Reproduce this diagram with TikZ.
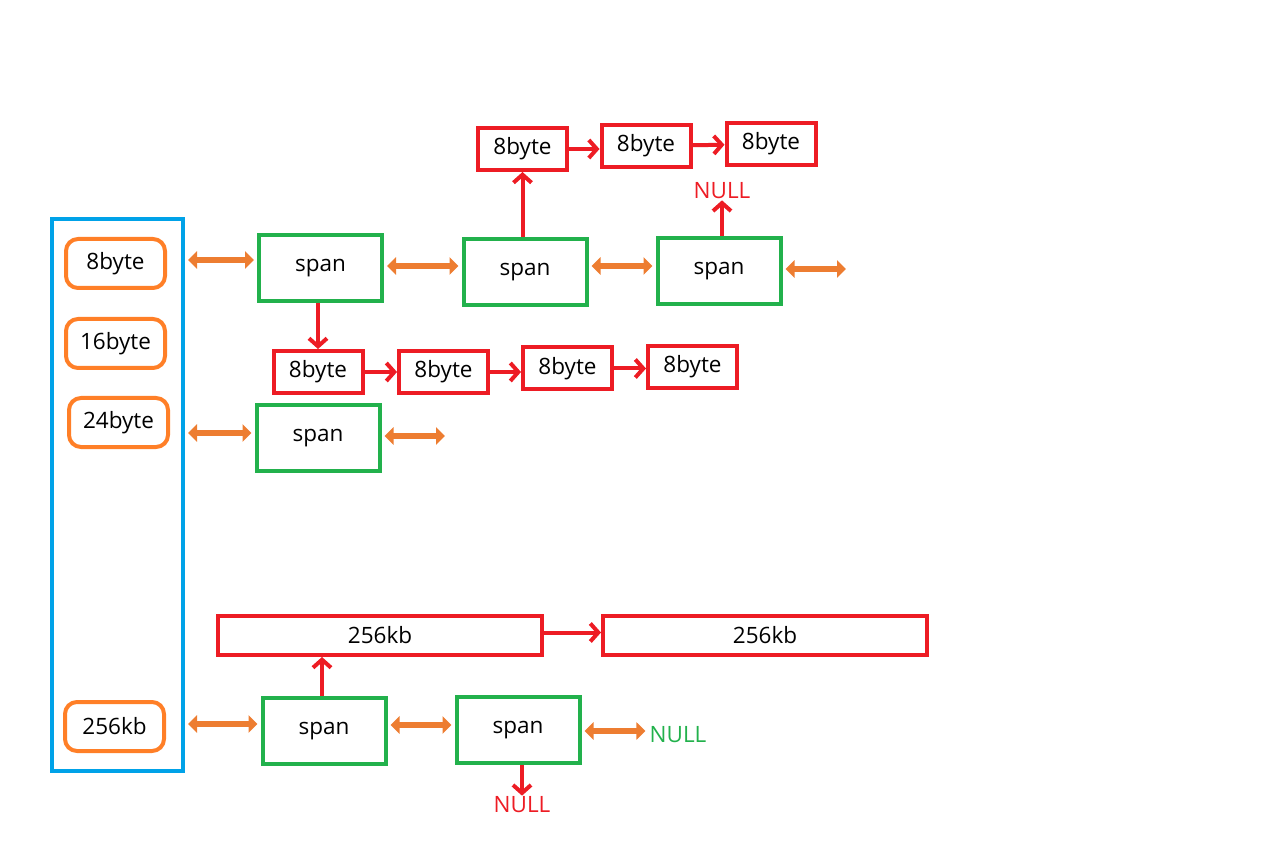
\documentclass[tikz,border=0pt]{standalone}
\usepackage{fontspec}
\setmainfont{Open Sans}
\usetikzlibrary{positioning, arrows.meta}

\definecolor{poolblue}{HTML}{00A2E8}
\definecolor{classorange}{HTML}{FF7F27}
\definecolor{linkorange}{HTML}{ED7D31}
\definecolor{spangreen}{HTML}{22B14C}
\definecolor{objred}{HTML}{ED1C24}

\begin{document}
\begin{tikzpicture}[
    x=1pt, y=-1pt,
    font=\fontsize{22.5}{26}\selectfont,
    pool/.style={draw=poolblue, line width=4pt, minimum width=131pt, minimum height=552pt, inner sep=0pt},
    sizeclass/.style={draw=classorange, line width=4pt, rounded corners=12pt, minimum width=99pt, minimum height=49pt},
    spanbox/.style={draw=spangreen, line width=4pt, minimum width=123pt, minimum height=66pt},
    objbox/.style={draw=objred, line width=4pt, minimum width=89pt, minimum height=42pt},
    bigbox/.style={draw=objred, line width=4pt, minimum width=324pt, minimum height=39pt},
    dbl/.style={draw=linkorange, line width=6pt, {Triangle[length=9pt,width=17pt]}-{Triangle[length=9pt,width=17pt]}, shorten <=3pt, shorten >=3pt},
    nxt/.style={draw=objred, line width=4pt, -{Straight Barb[length=8pt,width=18pt,line width=4pt]}},
    nulltext/.style={inner sep=1pt}
  ]
    \useasboundingbox (0,0) rectangle (1288,858);

    % central free list
    \node[pool] (pool) at (117.5,495) {};
    \node[sizeclass] (c8) at (115.5,263.5) {8byte};
    \node[sizeclass] (c16) at (115.5,343.5) {16byte};
    \node[sizeclass] (c24) at (118.5,422.5) {24byte};
    \node[sizeclass] (c256) at (114.5,726.5) {256kb};

    % spans
    \node[spanbox] (s1) at (320.5,268) {span};
    \node[spanbox] (s2) at (525,272) {span};
    \node[spanbox] (s3) at (719,271) {span};
    \node[spanbox] (s4) at (318,438) {span};
    \node[spanbox] (s5) at (324,731) {span};
    \node[spanbox] (s6) at (518,730) {span};

    % small objects
    \node[objbox] (t1) at (522.5,149) {8byte};
    \node[objbox] (t2) at (646,146) {8byte};
    \node[objbox] (t3) at (771,144) {8byte};
    \node[objbox] (m1) at (318,372) {8byte};
    \node[objbox] (m2) at (443.5,372) {8byte};
    \node[objbox] (m3) at (567.5,368.5) {8byte};
    \node[objbox] (m4) at (692.5,367) {8byte};

    % large objects
    \node[bigbox] (b1) at (380,635.5) {256kb};
    \node[bigbox] (b2) at (765,635.5) {256kb};

    % NULL ends
    \node[nulltext, text=objred] (n1) at (722,191) {NULL};
    \node[nulltext, text=objred] (n2) at (522,805) {NULL};
    \node[nulltext, text=spangreen] (n3) at (678,735) {NULL};
    \coordinate (s3r) at (849,269);
    \coordinate (s4r) at (448,436);

    % span links
    \draw[dbl] ([yshift=8pt]s1.west -| pool.east) -- ([yshift=8pt]s1.west);
    \draw[dbl] ([yshift=2pt]s1.east) -- ([yshift=6pt]s2.west);
    \draw[dbl] ([yshift=6pt]s2.east) -- ([yshift=5pt]s3.west);
    \draw[dbl] ([yshift=2pt]s3.east) -- (s3r);
    \draw[dbl] ([yshift=5pt]s4.west -| pool.east) -- ([yshift=5pt]s4.west);
    \draw[dbl] ([yshift=2pt]s4.east) -- (s4r);
    \draw[dbl] ([yshift=7pt]s5.west -| pool.east) -- ([yshift=7pt]s5.west);
    \draw[dbl] ([yshift=6pt]s5.east) -- ([yshift=5pt]s6.west);
    \draw[dbl] ([yshift=-1pt]s6.east) -- ([yshift=-1pt]s6.east -| n3.west);

    % object chains
    \draw[nxt] (s1.south -| m1.north) -- (m1.north);
    \draw[nxt] (m1) -- (m2);
    \draw[nxt] (m2.east) -- (m3.west |- m2.east);
    \draw[nxt] (m3.east) -- (m4.west |- m3.east);
    \draw[nxt] (s2.north -| t1.south) -- (t1.south);
    \draw[nxt] (t1.east) -- (t2.west |- t1.east);
    \draw[nxt] (t2) -- (t3);
    \draw[nxt] (s3.north -| n1.south) -- (n1.south);
    \draw[nxt] (s5.north -| 322,0) -- (b1.south -| 322,0);
    \draw[nxt] ([yshift=3pt]b1.east) -- ([yshift=3pt]b2.west);
    \draw[nxt] (s6.south -| n2.north) -- (n2.north);
\end{tikzpicture}
\end{document}
